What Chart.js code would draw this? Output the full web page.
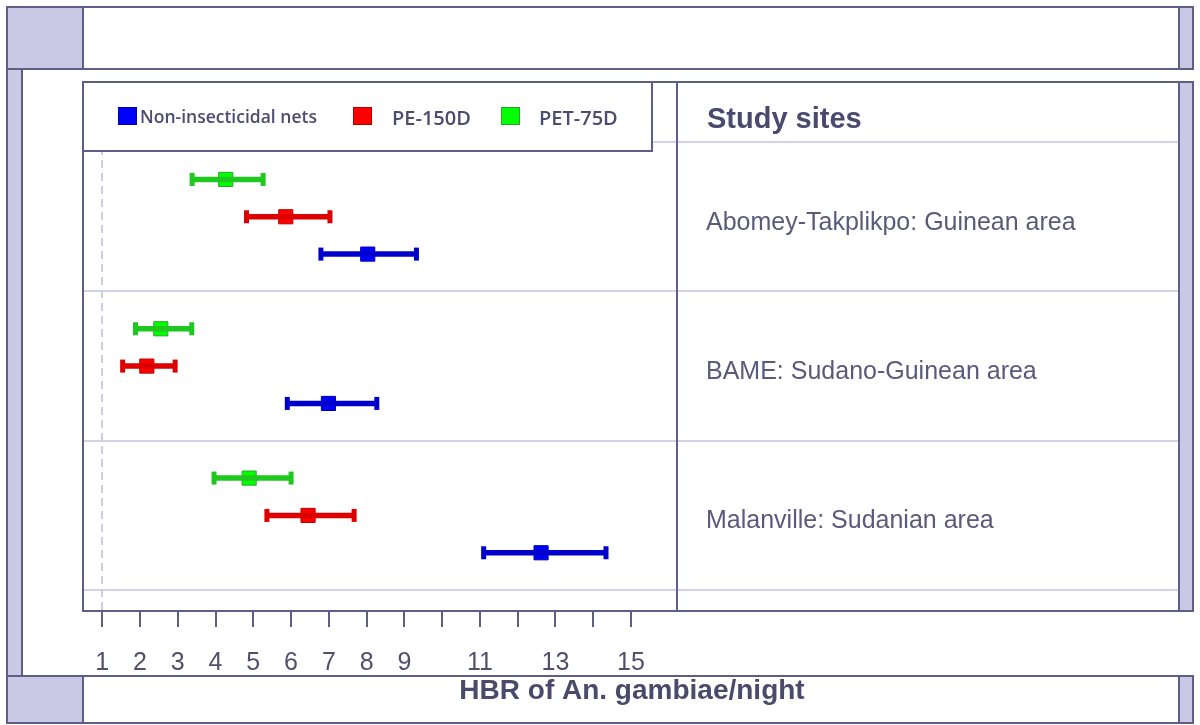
<!DOCTYPE html>
<html><head><meta charset="utf-8">
<script src="https://cdn.jsdelivr.net/npm/chart.js@4.4.1/dist/chart.umd.min.js"></script>
<style>html,body{margin:0;padding:0;background:#fff;overflow:hidden}#wrap{width:1200px;height:725px;position:relative}</style>
</head><body><div id="wrap"><canvas id="c" width="1200" height="725"></canvas></div>
<script>
// ---- data ----
const sites = ['Abomey-Takplikpo: Guinean area', 'BAME: Sudano-Guinean area', 'Malanville: Sudanian area'];
const seriesNames = ['Non-insecticidal nets', 'PE-150D', 'PET-75D'];
const nonMean = [8.03, 6.99, 12.62];
const nonLow  = [6.79, 5.90, 11.10];
const nonHigh = [9.32, 8.27, 14.34];
const peMean  = [5.86, 2.18, 6.45];
const peLow   = [4.82, 1.54, 5.36];
const peHigh  = [7.03, 2.93, 7.67];
const petMean = [4.27, 2.55, 4.89];
const petLow  = [3.38, 1.88, 3.96];
const petHigh = [5.26, 3.37, 6.00];
const tickValues = [1, 2, 3, 4, 5, 6, 7, 8, 9, 10, 11, 12, 13, 14, 15];
const tickLabels = [1, 2, 3, 4, 5, 6, 7, 8, 9, 11, 13, 15];
const xTitle = 'HBR of An. gambiae/night';
const sitesHeader = 'Study sites';

// ---- styles ----
const LAV = '#c9c9e5', DARK = '#5e5e86', LIGHT = '#d2d2ea', TXT = '#4c4c70';
const lineCol = ['#0000cc', '#dd0000', '#1ec81e'];
const fillCol = ['#0000ff', '#ff0000', '#00ff00'];
const edgeCol = ['#0000aa', '#bb0000', '#22aa22'];

const means = [nonMean, peMean, petMean];
const lows = [nonLow, peLow, petLow];
const highs = [nonHigh, peHigh, petHigh];
const rowOf = (site, s) => site * 4 + (3 - s);

const datasets = [];
for (let s = 0; s < 3; s++) {
  for (let i = 0; i < sites.length; i++) {
    datasets.push({
      type: 'scatter', showLine: true,
      data: [{x: lows[s][i], y: rowOf(i, s)}, {x: highs[s][i], y: rowOf(i, s)}],
      borderColor: lineCol[s], borderWidth: 5.5,
      pointStyle: 'line', rotation: 90, pointRadius: 6.5, pointBorderWidth: 5,
      pointBorderColor: lineCol[s], pointBackgroundColor: lineCol[s]
    });
  }
}
for (let s = 0; s < 3; s++) {
  datasets.push({
    type: 'scatter', label: seriesNames[s],
    data: means[s].map((v, i) => ({x: v, y: rowOf(i, s)})),
    pointStyle: 'rect', pointRadius: 10, pointBorderWidth: 1,
    pointBackgroundColor: fillCol[s], pointBorderColor: edgeCol[s]
  });
}

function ln(ctx, x1, y1, x2, y2) { ctx.beginPath(); ctx.moveTo(x1, y1); ctx.lineTo(x2, y2); ctx.stroke(); }

const frame = {
  id: 'frame',
  beforeDraw(chart) {
    const ctx = chart.ctx, xs = chart.scales.x, ys = chart.scales.y;
    ctx.save();
    ctx.fillStyle = '#fff'; ctx.fillRect(0, 0, 1200, 725);
    ctx.fillStyle = LAV;
    ctx.fillRect(7, 7, 76, 62); ctx.fillRect(1179, 7, 14, 62);
    ctx.fillRect(7, 69, 15, 607);
    ctx.fillRect(1179, 82, 14, 529);
    ctx.fillRect(7, 676, 76, 47); ctx.fillRect(1179, 676, 14, 47);
    ctx.strokeStyle = LIGHT; ctx.lineWidth = 2;
    for (let k = 0; k <= sites.length; k++) {
      const py = Math.round(ys.getPixelForValue(k * 4));
      ln(ctx, 83, py, 1179, py);
    }
    ctx.setLineDash([8, 5]); ctx.strokeStyle = '#cdcde4';
    const px = Math.round(xs.getPixelForValue(1));
    ln(ctx, px, ys.top, px, ys.bottom);
    ctx.restore();
  },
  afterDraw(chart) {
    const ctx = chart.ctx, ys = chart.scales.y;
    ctx.save();
    ctx.strokeStyle = DARK; ctx.lineWidth = 2;
    ctx.strokeRect(7, 7, 1186, 62); ln(ctx, 83, 7, 83, 69); ln(ctx, 1179, 7, 1179, 69);
    ctx.strokeRect(7, 69, 15, 607);
    ctx.strokeRect(83, 82, 1096, 529); ctx.strokeRect(1179, 82, 14, 529);
    ln(ctx, 677, 82, 677, 611);
    ctx.strokeRect(7, 676, 1186, 47); ln(ctx, 83, 676, 83, 723); ln(ctx, 1179, 676, 1179, 723);
    // legend
    ctx.fillStyle = '#fff'; ctx.fillRect(84, 83, 567, 67);
    ctx.strokeRect(83, 82, 569, 69);
    const sq = [118, 353, 501];
    for (let s = 0; s < 3; s++) {
      ctx.fillStyle = fillCol[s]; ctx.fillRect(sq[s], 107, 19, 18);
      ctx.strokeStyle = edgeCol[s]; ctx.lineWidth = 1; ctx.strokeRect(sq[s] + 0.5, 107.5, 18, 17);
    }
    ctx.fillStyle = TXT; ctx.textBaseline = 'alphabetic'; ctx.textAlign = 'left';
    ctx.font = '600 17.5px "Open Sans"'; ctx.fillText(seriesNames[0], 140, 123);
    ctx.font = '600 20px "Open Sans"'; ctx.fillText(seriesNames[1], 392, 125); ctx.fillText(seriesNames[2], 539, 125);
    // right column
    ctx.font = 'bold 29px "Liberation Sans"'; ctx.fillStyle = '#4a4a70';
    ctx.fillText(sitesHeader, 707, 128);
    ctx.font = '25px "Liberation Sans"'; ctx.fillStyle = '#5a5a7c';
    sites.forEach((t, i) => ctx.fillText(t, 706, ys.getPixelForValue(i * 4 + 2) + 13));
    // x title
    ctx.font = 'bold 28px "Liberation Sans"'; ctx.fillStyle = '#4a4a6c'; ctx.textAlign = 'center';
    ctx.fillText(xTitle, 632, 699);
    ctx.restore();
  }
};

new Chart(document.getElementById('c'), {
  type: 'scatter',
  data: { datasets },
  options: {
    responsive: false, animation: false, events: [],
    layout: { padding: { left: 83, top: 82, right: 523, bottom: 34 } },
    plugins: { legend: { display: false }, tooltip: { enabled: false }, title: { display: false } },
    scales: {
      x: {
        type: 'linear', min: 0.49, max: 16.22,
        afterBuildTicks: s => { s.ticks = tickValues.map(v => ({ value: v })); },
        afterFit: s => { s.height = 80; },
        ticks: {
          autoSkip: false, maxRotation: 0, padding: 21, color: '#50506e',
          font: { family: 'Liberation Sans', size: 25 },
          callback: v => tickLabels.includes(v) ? String(v) : ''
        },
        grid: { drawOnChartArea: false, drawTicks: true, tickLength: 16, color: DARK, lineWidth: 2 },
        border: { display: false }
      },
      y: { type: 'linear', display: false, reverse: true, min: -1.61, max: 12.56 }
    }
  },
  plugins: [frame]
});
</script></body></html>
